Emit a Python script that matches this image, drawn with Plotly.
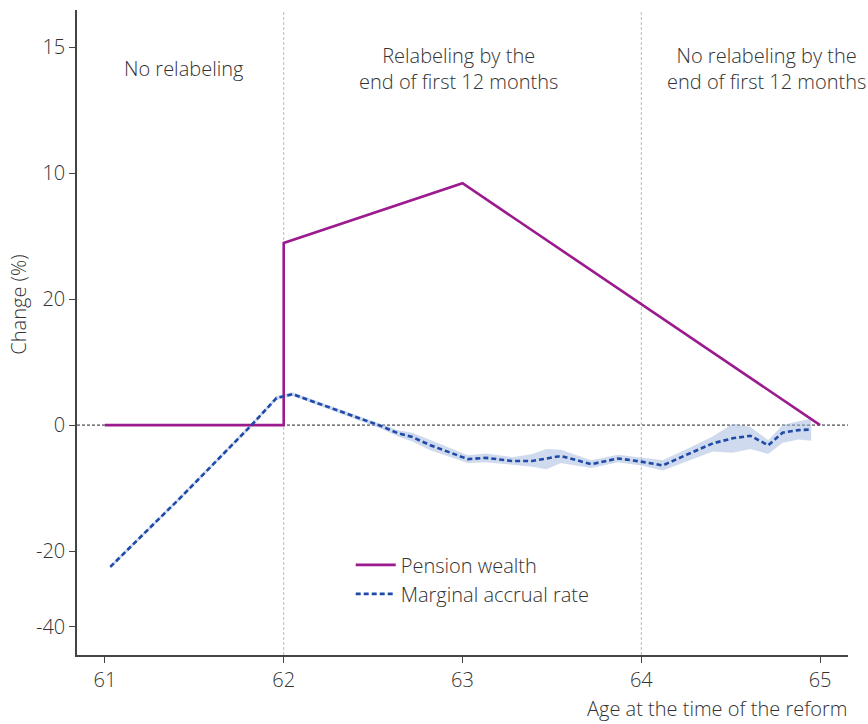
import plotly.graph_objects as go

# Pension wealth change (in chart units) by age at the time of the reform
pw_age = [61.0, 62.0, 62.0, 63.0, 65.0]
pw_val = [0.0, 0.0, 28.9, 38.4, 0.0]

# Marginal accrual rate with confidence band
mar_age = [61.03, 61.42, 61.82, 61.96, 62.05, 62.54, 62.64, 62.72, 62.82, 63.03,
           63.13, 63.28, 63.39, 63.47, 63.55, 63.72, 63.87, 64.0, 64.12, 64.27,
           64.40, 64.51, 64.61, 64.71, 64.79, 64.88, 64.95]
mar_val = [-22.5, -11.6, 0.0, 4.3, 4.9, -0.1, -1.3, -1.9, -3.2, -5.4,
           -5.2, -5.7, -5.7, -5.3, -4.9, -6.2, -5.3, -5.8, -6.4, -4.5,
           -2.9, -2.1, -1.7, -3.2, -1.2, -0.8, -0.7]
mar_hi = [-22.2, -11.3, 0.3, 4.6, 5.2, 0.3, -0.8, -1.2, -2.4, -4.8,
          -4.5, -5.1, -4.6, -3.8, -3.9, -5.6, -4.7, -5.2, -5.6, -3.6,
          -1.8, 0.2, -0.3, -2.4, 0.0, 0.6, 1.0]
mar_lo = [-22.8, -11.9, -0.3, 4.0, 4.6, -0.5, -1.8, -2.6, -4.0, -6.0,
          -5.9, -6.3, -6.6, -7.0, -6.0, -6.8, -5.9, -6.4, -7.2, -5.6,
          -4.2, -4.4, -3.8, -4.6, -2.8, -2.3, -2.5]

# Y axis tick positions and their printed labels
y_tickvals = [60, 40, 20, 0, -20, -32]
y_ticktext = ["15", "10", "20", "0", "-20", "-40"]
x_tickvals = [61, 62, 63, 64, 65]

# Period labels
periods = [
    (61.44, "No relabeling"),
    (62.98, "Relabeling by the<br>end of first 12 months"),
    (64.70, "No relabeling by the<br>end of first 12 months"),
]

FONT = "Open Sans"
FS = 20
TXT = "#333333"
PURPLE = "#9b1b8e"
BLUE = "#1f4aa8"
BAND = "rgba(160,182,222,0.5)"

fig = go.Figure()

fig.add_trace(go.Scatter(
    x=mar_age + mar_age[::-1], y=mar_hi + mar_lo[::-1],
    fill="toself", fillcolor=BAND, line=dict(width=0),
    hoverinfo="skip", showlegend=False))

fig.add_trace(go.Scatter(
    x=pw_age, y=pw_val, mode="lines", name="Pension wealth",
    legendgroup="pw", line=dict(color=PURPLE, width=2.6)))

fig.add_trace(go.Scatter(
    x=mar_age, y=mar_val, mode="lines", name="Marginal accrual rate",
    legendgroup="mar", line=dict(color=BLUE, width=2.6, dash="5px,3px")))

# zero reference line
fig.add_shape(type="line", xref="paper", yref="y", x0=0, x1=1, y0=0, y1=0,
              line=dict(color="#222222", width=1, dash="3px,2px"), layer="below")
# period dividers
for xv in (62, 64):
    fig.add_shape(type="line", xref="x", yref="paper", x0=xv, x1=xv, y0=0, y1=1,
                  line=dict(color="#bbbbbb", width=1, dash="3px,2px"), layer="below")

for xv, txt in periods:
    fig.add_annotation(x=xv, y=0.909, xref="x", yref="paper", text=txt,
                       showarrow=False, xanchor="center", yanchor="middle",
                       font=dict(family=FONT, size=FS, color=TXT, weight=300))

fig.add_annotation(x=1.0, y=-0.0825, xref="paper", yref="paper",
                   text="Age at the time of the reform", showarrow=False,
                   xanchor="right", yanchor="middle", borderpad=0,
                   font=dict(family=FONT, size=FS, color=TXT, weight=300))
fig.add_annotation(x=-0.077, y=(655 - 305) / 645, xref="paper", yref="paper",
                   text="Change (%)", showarrow=False, textangle=-90,
                   xanchor="center", yanchor="middle",
                   font=dict(family=FONT, size=FS, color=TXT, weight=300))

fig.update_layout(
    width=868, height=724,
    margin=dict(l=77, r=20, t=10, b=69),
    paper_bgcolor="white", plot_bgcolor="white",
    font=dict(family=FONT, size=FS, color=TXT, weight=300),
    legend=dict(x=0.355, y=0.17, xanchor="left", yanchor="top",
                bgcolor="rgba(0,0,0,0)", itemwidth=40,
                font=dict(size=FS, color=TXT, weight=300),
                tracegroupgap=0),
    xaxis=dict(range=[60.844, 65.156], tickvals=x_tickvals,
               showgrid=False, zeroline=False,
               showline=True, linecolor="#444444", linewidth=1.5,
               ticks="outside", ticklen=6, tickcolor="#444444",
               tickfont=dict(size=FS, color=TXT, weight=300)),
    yaxis=dict(range=[-36.5, 65.9], tickvals=y_tickvals, ticktext=y_ticktext,
               showgrid=False, zeroline=False,
               showline=True, linecolor="#444444", linewidth=1.5,
               ticks="outside", ticklen=6, tickcolor="#444444",
               tickfont=dict(size=FS, color=TXT, weight=300)),
)

fig.write_html("out.html")
